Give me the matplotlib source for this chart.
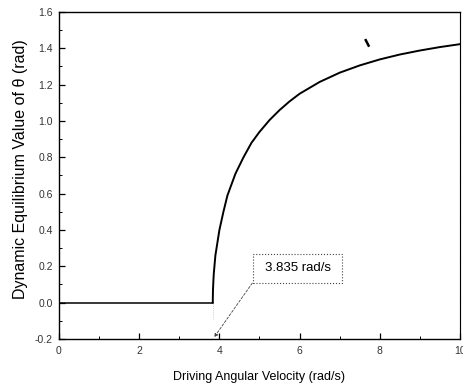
import matplotlib
matplotlib.use("Agg")
import matplotlib.pyplot as plt
from matplotlib.ticker import MultipleLocator
from matplotlib.patches import Rectangle

plt.rcParams['font.family'] = ['Liberation Sans', 'DejaVu Sans']

# Data
omega_flat = [0.0, 3.835]
theta_flat = [0.0, 0.0]
omega = [3.835, 3.836, 3.84, 3.85, 3.86, 3.9, 3.95, 4.0, 4.1, 4.2, 4.3, 4.4,
         4.6, 4.7, 4.8, 5.0, 5.25, 5.5, 5.75, 6.0, 6.5, 7.0, 7.5, 8.0, 8.5,
         9.0, 9.5, 10.0]
theta = [0.0, 0.03, 0.07, 0.12, 0.16, 0.26, 0.33, 0.40, 0.50, 0.59, 0.65,
         0.71, 0.80, 0.84, 0.88, 0.94, 1.005, 1.06, 1.108, 1.15, 1.215,
         1.266, 1.306, 1.339, 1.366, 1.388, 1.407, 1.423]
critical_label = "3.835 rad/s"
critical_omega = 3.835
xticks = [0, 2, 4, 6, 8, 10]
yticks = [-0.2, 0.0, 0.2, 0.4, 0.6, 0.8, 1.0, 1.2, 1.4, 1.6]
ytick_labels = ["-0.2", "0.0", "0.2", "0.4", "0.6", "0.8", "1.0", "1.2", "1.4", "1.6"]

fig = plt.figure(figsize=(4.64, 3.89), dpi=100)
ax = fig.add_axes([59/464, 1-339/389, (460-59)/464, (339-12)/389])

ax.plot(omega_flat, theta_flat, color='black', lw=1.1)
ax.plot(omega, theta, color='black', lw=1.4)
ax.plot([critical_omega, critical_omega], [0.0, -0.09], color='#bbbbbb', lw=0.6, ls=':')

# stray mark
ax.plot([7.65, 7.72], [1.445, 1.415], color='black', lw=1.8)

ax.set_xlim(0, 10)
ax.set_ylim(-0.2, 1.6)
ax.set_xticks(xticks)
ax.set_yticks(yticks)
ax.set_yticklabels(ytick_labels)
ax.xaxis.set_minor_locator(MultipleLocator(1))
ax.yaxis.set_minor_locator(MultipleLocator(0.1))
ax.tick_params(which='both', direction='in', top=False, right=False,
               labelsize=7.5, labelcolor='#333333', color='black')
ax.tick_params(which='major', length=4, width=0.9)
ax.tick_params(which='minor', length=2, width=0.7)
ax.tick_params(axis='x', pad=5)
ax.tick_params(axis='y', pad=4.5)
for s in ax.spines.values():
    s.set_linewidth(1.0)
ax.spines['right'].set_linewidth(0.8)
ax.spines['right'].set_linestyle((0, (1, 0.5)))

ax.set_xlabel("Driving Angular Velocity (rad/s)", fontsize=9, labelpad=11)
ax.set_ylabel("Dynamic Equilibrium Value of θ (rad)", fontsize=11.5)
ax.yaxis.set_label_coords(-0.078, 0.518)

# annotation box and leader line
ax.add_patch(Rectangle((4.84, 0.111), 2.22, 0.156, fc='white', ec='#444444',
                       lw=0.8, ls=':', zorder=3))
ax.text(5.95, 0.19, critical_label, fontsize=9.5, ha='center', va='center',
        zorder=4)
ax.annotate("", xy=(3.87, -0.19), xytext=(4.82, 0.108),
            arrowprops=dict(arrowstyle='-|>', color='#444444', lw=0.6,
                            ls=(0, (3, 2)), mutation_scale=5,
                            shrinkA=0, shrinkB=0))

fig.savefig("out.png", dpi=100)
